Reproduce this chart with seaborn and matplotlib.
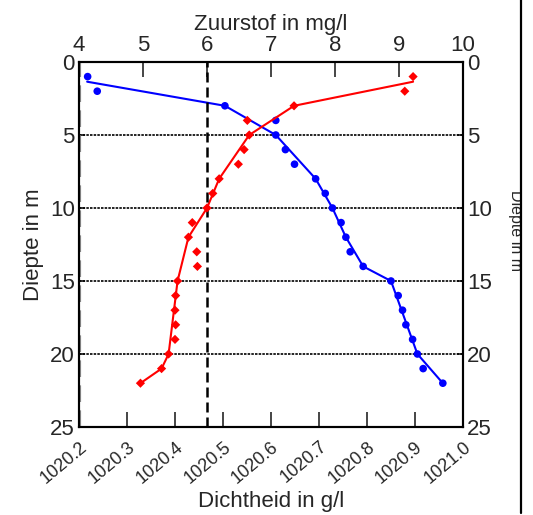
import numpy as np
import matplotlib
matplotlib.use("Agg")
import matplotlib.pyplot as plt
import seaborn as sns
from matplotlib.lines import Line2D
from matplotlib.patches import Rectangle
from matplotlib.transforms import ScaledTranslation

# === Data ===
diepte = [1, 2, 3, 4, 5, 6, 7, 8, 9, 10, 11, 12, 13, 14, 15, 16, 17, 18, 19, 20, 21, 22]
dichtheid = [1020.218, 1020.238, 1020.504, 1020.610, 1020.610, 1020.630, 1020.649,
             1020.693, 1020.713, 1020.728, 1020.746, 1020.756, 1020.765, 1020.792,
             1020.850, 1020.865, 1020.874, 1020.881, 1020.895, 1020.905, 1020.917,
             1020.958]
zuurstof = [9.22, 9.09, 7.36, 6.63, 6.66, 6.58, 6.49, 6.19, 6.09, 6.00, 5.77, 5.71,
            5.84, 5.85, 5.54, 5.51, 5.50, 5.51, 5.50, 5.40, 5.29, 4.96]

# smoothed lines
lijn_diepte_d = [1.35, 3, 5, 8, 10, 12, 14, 15, 20, 22]
lijn_dichtheid = [1020.217, 1020.504, 1020.610, 1020.693, 1020.728, 1020.756,
                  1020.792, 1020.850, 1020.905, 1020.958]
lijn_diepte_z = [1.35, 3, 5, 8, 10, 12, 15, 20, 21, 22]
lijn_zuurstof = [9.22, 7.36, 6.66, 6.19, 6.00, 5.71, 5.54, 5.40, 5.29, 4.96]

grens_zuurstof = 6.0
diepte_ticks = [0, 5, 10, 15, 20, 25]
dicht_ticks = [1020.2, 1020.3, 1020.4, 1020.5, 1020.6, 1020.7, 1020.8, 1020.9, 1021.0]
dicht_labels = ["1020.2", "1020.3", "1020.4", "1020.5", "1020.6", "1020.7",
                "1020.8", "1020.9", "1021.0"]
zuur_ticks = [4, 5, 6, 7, 8, 9, 10]

# === Figure ===
sns.set_style("white")
plt.rcParams['font.family'] = ['Liberation Sans', 'DejaVu Sans']

W, H = 533, 515
fig = plt.figure(figsize=(W / 100, H / 100), dpi=100)
ax = fig.add_axes([79 / W, 88 / H, 384 / W, 365 / H])
ax2 = ax.twiny()

# density (bottom axis)
sns.lineplot(x=lijn_dichtheid, y=lijn_diepte_d, orient='y', color='blue',
             linewidth=1.5, ax=ax)
sns.scatterplot(x=dichtheid, y=diepte, color='blue', marker='o', s=30,
                edgecolor='none', ax=ax, zorder=3)

# oxygen (top axis)
sns.lineplot(x=lijn_zuurstof, y=lijn_diepte_z, orient='y', color='red',
             linewidth=1.5, ax=ax2)
sns.scatterplot(x=zuurstof, y=diepte, color='red', marker='D', s=22,
                edgecolor='none', ax=ax2, zorder=3)
ax2.axvline(grens_zuurstof, color='black', linestyle=(0, (4, 2)), linewidth=1.8)

for d in diepte_ticks[1:-1]:
    ax.axhline(d, color='black', linestyle=(0, (1.5, 0.7)), linewidth=1.2, zorder=1)
ax.axvline(1020.2, color='0.55', linestyle=(0, (4, 2)), linewidth=3, zorder=1)

ax.set_xlim(1020.2, 1021.0)
ax.set_ylim(25, 0)
ax2.set_xlim(4, 10)

ax.set_xticks(dicht_ticks)
ax.set_xticklabels(dicht_labels, rotation=40, ha='right', va='top',
                   rotation_mode='anchor', fontsize=13)
shift = ScaledTranslation(2 / 100, 0, fig.dpi_scale_trans)
for lab in ax.get_xticklabels():
    lab.set_transform(lab.get_transform() + shift)
ax.set_yticks(diepte_ticks)
ax.set_yticklabels([str(d) for d in diepte_ticks], fontsize=16)
ax2.set_xticks(zuur_ticks)
ax2.set_xticklabels([str(z) for z in zuur_ticks], fontsize=16)

ax.tick_params(axis='x', direction='in', length=11, width=1.2, pad=8)
ax.tick_params(axis='y', direction='in', length=4, width=1.2, pad=3,
               left=True, right=True, labelleft=True, labelright=True)
ax2.tick_params(axis='x', direction='in', length=11, width=1.2, pad=4)

for a in (ax, ax2):
    for s in a.spines.values():
        s.set_linewidth(1.5)
        s.set_color('black')
    a.grid(False)

ax.set_xlabel("Dichtheid in g/l", fontsize=16, labelpad=3)
ax.set_ylabel("Diepte in m", fontsize=16, labelpad=4)
ax2.set_xlabel("Zuurstof in mg/l", fontsize=16, labelpad=4)

# right label, cut off by the frame line
fig.text(515 / W, 285 / H, "Diepte in m", rotation=270, fontsize=11.5,
         ha='center', va='center')
fig.patches.append(Rectangle((521 / W, 0), 12 / W, 1, transform=fig.transFigure,
                             facecolor='white', edgecolor='none', zorder=5))
fig.lines.append(Line2D([520.5 / W, 520.5 / W], [2 / H, 1], transform=fig.transFigure,
                        color='black', linewidth=1.6, zorder=6))

plt.savefig("out.png", dpi=100)
